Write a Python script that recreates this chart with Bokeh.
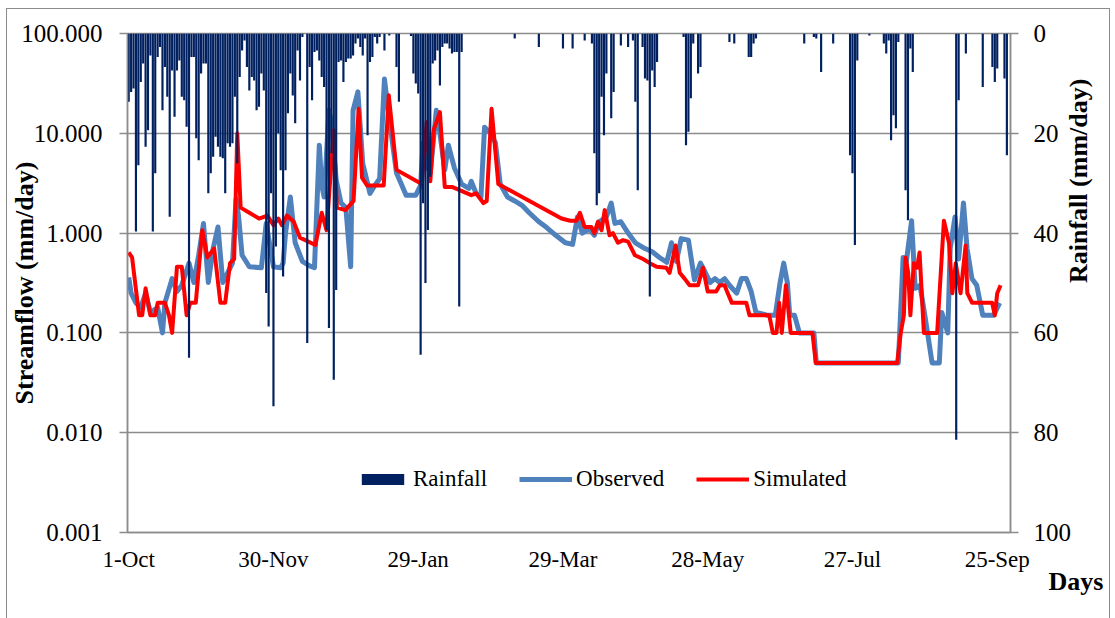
from math import pi

from bokeh.plotting import figure
from bokeh.models import (Range1d, LinearScale, LinearAxis, FixedTicker, PrintfTickFormatter,
                          Legend, LegendItem, Title)
from bokeh.embed import file_html
from bokeh.resources import INLINE

FONT = "Liberation Serif"
GRID = "#8c8c8c"
RAIN_COLOR = "#002060"
OBS_COLOR = "#4F81BD"
SIM_COLOR = "#FF0000"

# Axis ticks (day 0 = 1 October)
day_ticks = [0, 60, 120, 180, 240, 300, 360]
day_labels = ["1-Oct", "30-Nov", "29-Jan", "29-Mar", "28-May", "27-Jul", "25-Sep"]
flow_ticks = [0.001, 0.01, 0.1, 1, 10, 100]
rain_ticks = [0, 20, 40, 60, 80, 100]

# Daily rainfall (mm/day) on rainy days
rain_day = [0, 1, 2, 3, 4, 5, 6, 7, 8, 9, 10, 11, 12, 13, 14, 15, 16, 17, 18, 19,
            20, 21, 22, 23, 24, 25, 26, 27, 28, 29, 30, 31, 32, 33, 34, 35, 36, 37, 38, 39,
            40, 41, 42, 43, 44, 45, 46, 47, 48, 49, 50, 51, 52, 53, 54, 55, 56, 57, 58, 59,
            60, 61, 62, 63, 64, 65, 66, 67, 68, 69, 70, 71, 72, 74, 75, 76, 77, 78, 79,
            80, 81, 82, 83, 84, 85, 86, 87, 88, 89, 90, 91, 92, 93, 94, 95, 96, 97, 98, 99,
            100, 101, 102, 103, 104, 106, 108, 111, 112, 117, 118, 119,
            120, 121, 122, 123, 124, 125, 126, 127, 128, 129, 130, 131, 132, 133, 134, 135,
            136, 137, 138, 160, 170, 180, 184, 189, 192, 193, 194, 195, 196, 197, 198,
            200, 201, 204, 207, 209, 210, 211, 213, 214, 215, 216, 217, 218, 219,
            230, 231, 232, 233, 234, 236, 237, 249, 251, 257, 258, 259, 260,
            280, 284, 285, 287, 292, 299, 300, 301, 302, 307, 313, 314, 315, 316, 317, 318, 319,
            322, 323, 324, 325, 343, 344, 347, 354, 358, 359, 360, 363, 364]
rain_mm = [13.7, 11.7, 11.0, 39.7, 26.4, 9.7, 6.0, 22.7, 19.4, 4.4, 39.7, 28.0, 4.7, 2.7, 15.4, 6.7, 12.7, 36.7, 7.4, 16.7,
           7.4, 5.4, 12.7, 13.4, 18.7, 65.0, 4.7, 4.7, 21.0, 25.4, 8.0, 6.0, 6.0, 32.0, 28.0, 24.7, 20.7, 22.7, 24.7, 25.0,
           32.0, 22.0, 22.7, 22.0, 12.7, 26.0, 8.7, 3.4, 1.4, 6.7, 11.4, 8.7, 9.4, 15.4, 14.7, 8.0, 11.4, 52.0, 58.7, 32.0,
           74.7, 42.7, 20.0, 27.4, 48.7, 27.4, 16.0, 8.0, 12.4, 18.0, 3.4, 9.4, 0.7, 62.0, 6.7, 13.4, 3.7, 3.4, 5.4,
           8.7, 10.7, 39.4, 59.0, 24.0, 69.4, 51.4, 5.7, 5.4, 9.7, 5.7, 5.0, 5.0, 4.4, 2.0, 1.0, 2.7, 4.4, 1.0, 20.4,
           5.7, 4.7, 0.7, 2.0, 0.7, 3.4, 0.4, 6.7, 13.7, 0.5, 8.0, 10.0,
           12.0, 64.4, 34.0, 50.0, 39.4, 28.7, 6.0, 5.4, 3.4, 10.4, 2.7, 2.0, 2.0, 3.0, 4.0, 3.7,
           3.7, 54.7, 3.7, 1.0, 2.7, 3.0, 3.0, 1.4, 2.0, 24.0, 34.4, 32.0, 12.7, 20.4, 8.0,
           17.0, 11.7, 2.4, 2.7, 1.4, 13.7, 31.4, 2.7, 9.0, 9.4, 52.7, 7.4, 10.7, 5.7,
           0.7, 22.4, 19.7, 13.0, 2.0, 8.0, 6.7, 1.7, 2.0, 4.7, 4.7, 2.0, 1.0,
           2.0, 0.7, 1.0, 7.7, 2.0, 24.4, 28.0, 42.4, 5.4, 0.4, 2.0, 4.0, 1.4, 21.4, 16.4, 19.0, 1.7,
           31.4, 37.4, 3.0, 7.7, 81.4, 13.4, 4.0, 10.7, 6.7, 9.7, 7.0, 9.0, 24.4]

# Observed streamflow (mm/day)
obs_day = [0, 1, 3, 5, 7, 9, 12, 14, 15, 18, 20, 22, 25, 27, 29, 31, 33, 35, 37, 39,
           41, 43, 44.5, 45.5, 47, 50, 55, 57, 58, 60, 63, 64, 65, 67, 69, 72, 75, 77, 79, 80,
           81, 83, 84, 86, 88, 90, 92, 93, 95, 97, 100, 102, 104, 106, 108, 111, 115, 119, 121, 122,
           123, 125, 127.5, 129, 131, 132.5, 135, 138, 141, 142, 144, 146, 147.5, 150, 152, 154, 157, 160, 163, 166,
           170, 173, 177, 181, 184, 186, 188, 191, 193, 195, 198, 200, 201.5, 204, 207, 210, 214, 217, 220, 223,
           225, 227, 229, 232, 234.5, 237, 238, 241, 243, 245, 247, 249, 252, 254, 256, 258, 260, 265, 268, 270,
           271.5, 273, 274, 276, 278, 284, 285, 319, 321, 322, 324.5, 326, 328, 330, 333, 336, 337, 339.5, 340.5, 342.5,
           344, 346, 347.5, 349.5, 351.5, 354, 358.5, 361]
obs_flow = [0.36, 0.25, 0.2, 0.18, 0.25, 0.16, 0.18, 0.1, 0.2, 0.35, 0.26, 0.3, 0.5, 0.32, 0.6, 1.25, 0.32, 0.7, 1.15, 0.32,
            0.4, 0.5, 2.2, 1.5, 0.6, 0.46, 0.45, 1.25, 0.9, 0.46, 0.45, 0.5, 1.0, 2.3, 0.8, 0.52, 0.47, 0.45, 7.6, 3.0,
            2.3, 17.0, 13.0, 3.4, 2.0, 1.8, 0.46, 17.0, 26.0, 5.0, 2.5, 3.0, 3.5, 35.0, 14.0, 4.0, 2.4, 2.4, 3.0, 8.0,
            5.0, 4.0, 17.0, 10.0, 4.3, 7.6, 4.5, 3.1, 2.8, 3.3, 2.5, 2.3, 11.5, 10.0, 8.0, 3.1, 2.3, 2.1, 1.9, 1.6,
            1.3, 1.15, 0.95, 0.8, 0.77, 1.45, 1.0, 1.1, 0.95, 1.3, 1.45, 2.0, 1.25, 1.3, 1.0, 0.8, 0.7, 0.65, 0.57, 0.51,
            0.8, 0.52, 0.88, 0.85, 0.34, 0.5, 0.45, 0.32, 0.35, 0.32, 0.35, 0.3, 0.25, 0.35, 0.35, 0.26, 0.16, 0.15, 0.15, 0.32,
            0.5, 0.32, 0.15, 0.15, 0.1, 0.1, 0.05, 0.05, 0.57, 0.45, 1.33, 0.28, 0.3, 0.15, 0.05, 0.05, 0.16, 0.1, 0.7, 1.45,
            0.55, 2.0, 0.7, 0.35, 0.3, 0.15, 0.15, 0.2]

# Simulated streamflow (mm/day)
sim_day = [0, 1.4, 4.3, 5.6, 7, 9, 11, 12, 15, 16.7, 18, 20, 22, 24, 25.5, 27.8, 30.5, 32.6, 35.4, 38,
           40, 42, 43.7, 45, 46.4, 50, 54, 57.5, 60, 62, 63.5, 65.6, 68.4, 71, 77.4, 80, 82, 85, 86.3, 89.8,
           93.2, 95.3, 96.7, 98.8, 105.7, 107.8, 111, 121.5, 123.5, 125, 126.5, 129, 131, 134, 142, 144, 147, 148.4, 150.4, 153.2,
           179.4, 183, 185.6, 187, 189, 191.8, 193, 194.5, 196, 197.3, 199.3, 200.7, 202.8, 204.9, 207, 209.8, 213.2, 216, 218.8, 222.8,
           224.2, 226.7, 228.4, 230.4, 232.5, 236, 238, 240, 243.5, 245, 247, 248, 250, 256, 257.3, 265.5, 267, 268.5, 269.6, 270.7,
           272.4, 274.4, 283.4, 284.8, 318.5, 320, 321.3, 322, 323.1, 324, 325.4, 326.8, 327.8, 329.6, 335.1, 337.9, 340, 341.4, 342.8, 344.8,
           346.9, 347.6, 349.6, 357.9, 359, 360, 361.4]
sim_flow = [0.64, 0.57, 0.15, 0.15, 0.28, 0.15, 0.15, 0.2, 0.2, 0.15, 0.1, 0.46, 0.46, 0.15, 0.2, 0.2, 1.07, 0.57, 0.7, 0.2,
            0.2, 0.5, 0.55, 10.0, 1.8, 1.6, 1.4, 1.5, 1.2, 1.4, 1.2, 1.5, 1.3, 0.9, 0.76, 1.6, 1.07, 10.7, 1.8, 1.7,
            2.1, 17.6, 3.6, 3.0, 3.0, 24.0, 4.3, 3.1, 13.0, 3.3, 11.0, 16.3, 2.9, 2.9, 2.4, 2.5, 2.0, 2.1, 17.6, 3.1,
            1.4, 1.33, 1.33, 1.6, 1.15, 1.15, 1.0, 1.3, 1.07, 1.7, 0.95, 1.0, 0.8, 0.85, 0.82, 0.6, 0.55, 0.5, 0.46, 0.45,
            0.4, 0.75, 0.4, 0.35, 0.3, 0.3, 0.45, 0.26, 0.26, 0.3, 0.3, 0.26, 0.2, 0.2, 0.15, 0.15, 0.1, 0.1, 0.2, 0.1,
            0.3, 0.1, 0.1, 0.05, 0.05, 0.1, 0.15, 0.57, 0.4, 0.15, 0.5, 0.45, 0.64, 0.1, 0.1, 1.33, 0.8, 0.25, 0.5, 0.25,
            0.75, 0.25, 0.2, 0.2, 0.15, 0.25, 0.3]

# Chart area: 1px grey border, offset from the page corner
p = figure(width=1104, height=612,
           x_range=Range1d(-0.5, 365.5), y_range=Range1d(0.001, 100),
           y_axis_type="log", output_backend="svg", toolbar_location=None,
           min_border_left=120, min_border_right=101, min_border_top=24, min_border_bottom=89,
           styles={"margin-left": "6px", "margin-top": "8px", "border": "1px solid #8c8c8c"})
p.background_fill_color = "white"
p.border_fill_color = "white"
p.outline_line_color = GRID
p.outline_line_width = 1.5

# Rainfall on its own inverted linear scale (0 at the top)
p.extra_y_ranges = {"rain": Range1d(start=100, end=0)}
p.extra_y_scales = {"rain": LinearScale()}

# Left (streamflow) axis
ya = p.yaxis[0]
ya.ticker = FixedTicker(ticks=flow_ticks, minor_ticks=[])
ya.formatter = PrintfTickFormatter(format="%.3f")
p.ygrid[0].ticker = FixedTicker(ticks=flow_ticks, minor_ticks=[])
p.ygrid[0].grid_line_color = GRID
p.ygrid[0].grid_line_width = 1.5
p.xgrid.visible = False

# Bottom (day) axis
xa = p.xaxis[0]
xa.ticker = FixedTicker(ticks=day_ticks, minor_ticks=[])
xa.major_label_overrides = dict(zip(day_ticks, day_labels))
xa.major_tick_out = 0
xa.major_tick_in = 0
xa.major_label_standoff = 14

# Right (rainfall) axis
ra = LinearAxis(y_range_name="rain", ticker=FixedTicker(ticks=rain_ticks, minor_ticks=[]))
p.add_layout(ra, "right")

for ax in (ya, xa, ra):
    ax.axis_line_color = GRID
    ax.axis_line_width = 1.5
    ax.major_tick_line_color = GRID
    ax.major_tick_line_width = 1.5
    ax.minor_tick_line_color = None
    ax.major_label_text_font = FONT
    ax.major_label_text_color = "black"
    ax.axis_label_text_font = FONT
    ax.axis_label_text_font_style = "bold"
    ax.axis_label_text_font_size = "26px"
    ax.axis_label_text_color = "black"
xa.major_label_text_font_size = "23px"
for ax in (ya, ra):
    ax.major_label_text_font_size = "25px"
    ax.major_tick_out = 8
    ax.major_tick_in = 0
ya.major_label_standoff = 17
ra.major_label_standoff = 15

ya.axis_label = "Streamflow (mm/day)"
ya.axis_label_standoff = -21
ra.axis_label = "Rainfall (mm/day)"
ra.axis_label_standoff = 4
if "axis_label_orientation" in ra.properties():
    # read bottom-to-top, like the left title
    ra.axis_label_orientation = pi / 2

# "Days" caption at the right end, under the day axis
days = Title(text="Days", align="left", offset=921, standoff=-42,
             text_font=FONT, text_font_style="bold", text_font_size="26px", text_color="black")
p.add_layout(days, "below")

# Series: flow lines first, rainfall bars drawn over them
obs = p.line(obs_day, obs_flow, line_color=OBS_COLOR, line_width=5, line_join="round")
sim = p.line(sim_day, sim_flow, line_color=SIM_COLOR, line_width=4, line_join="round")
bars = p.vbar(x=rain_day, top=0, bottom=rain_mm, width=0.9, y_range_name="rain",
              fill_color=RAIN_COLOR, line_color=None)
# solid swatch used only for the legend entry of the bars (no visible extent)
nan = float("nan")
swatch = p.quad(left=[nan], right=[nan], top=[nan], bottom=[nan],
                fill_color=RAIN_COLOR, line_color=None)

legend = Legend(items=[LegendItem(label="Rainfall", renderers=[swatch]),
                       LegendItem(label="Observed", renderers=[obs]),
                       LegendItem(label="Simulated", renderers=[sim])],
                orientation="horizontal", location=(229, 40),
                glyph_width=53, glyph_height=14, label_standoff=4, spacing=32,
                padding=0, margin=0, border_line_color=None, background_fill_alpha=0,
                label_text_font=FONT, label_text_font_size="23px", label_text_color="black")
p.add_layout(legend)

open("out.html", "w").write(file_html(p, INLINE))
